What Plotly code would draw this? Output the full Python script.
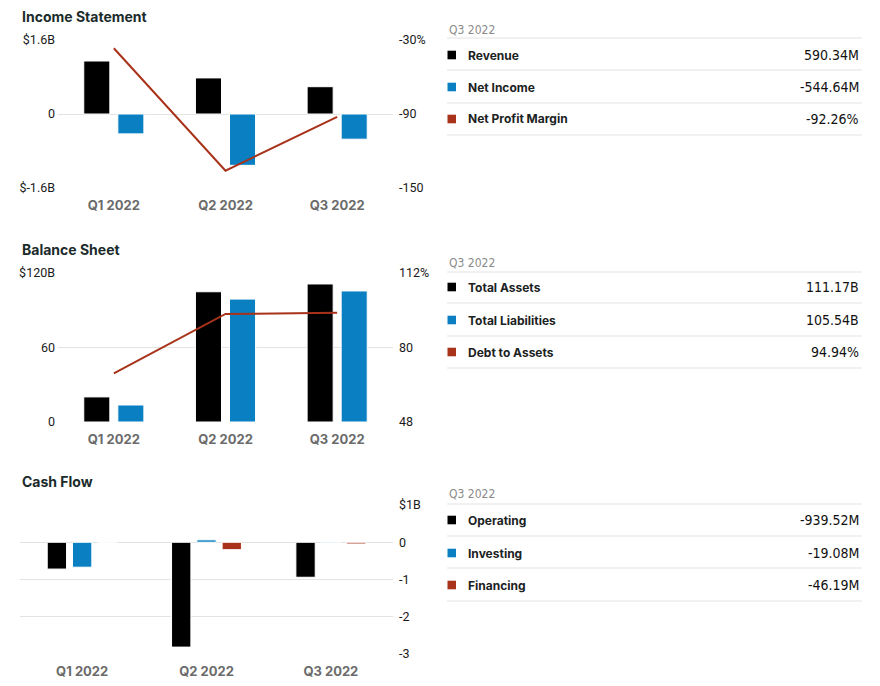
import plotly.graph_objects as go

# ---------------- data ----------------
quarters = ["Q1 2022", "Q2 2022", "Q3 2022"]

revenue_b = [1.146, 0.78, 0.59034]
net_income_b = [-0.43, -1.11, -0.54464]
net_profit_margin = [-36.7, -136.0, -92.26]

total_assets_b = [20.2, 104.9, 111.17]
total_liabilities_b = [13.7, 99.0, 105.54]
debt_to_assets = [68.9, 94.4, 94.94]

operating_b = [-0.72, -2.815, -0.93952]
investing_b = [-0.67, 0.065, -0.01908]
financing_b = [0.004, -0.20, -0.04619]

inc_left_ticks = [-1.6, 0, 1.6]
inc_left_text = ["$-1.6B", "0", "$1.6B"]
inc_right_ticks = [-150, -90, -30]
inc_right_text = ["-150", "-90", "-30%"]
bal_left_ticks = [0, 60, 120]
bal_left_text = ["0", "60", "$120B"]
bal_right_ticks = [48, 80, 112]
bal_right_text = ["48", "80", "112%"]
cf_ticks = [-3, -2, -1, 0, 1]
cf_text = ["-3", "-2", "-1", "0", "$1B"]

# ---------------- style ----------------
BLACK = "#000000"
BLUE = "#0a7fc2"
RED = "#a8321a"
GRID = "#e3e3e3"
W, H = 880, 686
BASE_FONT = "Inter, Roboto, 'DejaVu Sans', sans-serif"
NARROW = "'Liberation Sans Narrow', 'DejaVu Sans Condensed', 'Roboto Condensed', Roboto, sans-serif"


def px_x(p):
    return p / W


def px_y(p):
    return 1 - p / H


fig = go.Figure()

bar_line = dict(color="white", width=1)

# Income statement
fig.add_trace(go.Bar(x=quarters, y=revenue_b, marker=dict(color=BLACK, line=bar_line),
                     xaxis="x", yaxis="y", name="Revenue"))
fig.add_trace(go.Bar(x=quarters, y=net_income_b, marker=dict(color=BLUE, line=bar_line),
                     xaxis="x", yaxis="y", name="Net Income"))
fig.add_trace(go.Scatter(x=quarters, y=net_profit_margin, mode="lines",
                         line=dict(color=RED, width=2), xaxis="x", yaxis="y2",
                         name="Net Profit Margin"))

# Balance sheet
fig.add_trace(go.Bar(x=quarters, y=total_assets_b, marker=dict(color=BLACK, line=bar_line),
                     xaxis="x2", yaxis="y3", name="Total Assets"))
fig.add_trace(go.Bar(x=quarters, y=total_liabilities_b, marker=dict(color=BLUE, line=bar_line),
                     xaxis="x2", yaxis="y3", name="Total Liabilities"))
fig.add_trace(go.Scatter(x=quarters, y=debt_to_assets, mode="lines",
                         line=dict(color=RED, width=2), xaxis="x2", yaxis="y4",
                         name="Debt to Assets"))

# Cash flow
fig.add_trace(go.Bar(x=quarters, y=operating_b, marker=dict(color=BLACK, line=bar_line),
                     xaxis="x3", yaxis="y5", name="Operating"))
fig.add_trace(go.Bar(x=quarters, y=investing_b, marker=dict(color=BLUE, line=bar_line),
                     xaxis="x3", yaxis="y5", name="Investing"))
fig.add_trace(go.Bar(x=quarters, y=financing_b, marker=dict(color=RED, line=bar_line),
                     xaxis="x3", yaxis="y5", name="Financing"))

xfont = dict(family=BASE_FONT, size=13, color="#6b6b6b", weight=700)
yfont = dict(family="Roboto, 'DejaVu Sans', sans-serif", size=12.5, color="#1a1a1a")


def xaxis(domain, anchor):
    return dict(domain=domain, anchor=anchor, showgrid=False, zeroline=False,
                showline=False, ticks="", tickfont=xfont, ticklabelstandoff=8,
                fixedrange=True, automargin=False)


def yaxis(domain, rng, tv, tt, side="left", overlay=None, grid=True, anchor=None):
    d = dict(domain=domain, range=rng, tickvals=tv, ticktext=tt, side=side,
             showgrid=grid, gridcolor=GRID, gridwidth=1, zeroline=False,
             showline=False, ticks="", tickfont=yfont, fixedrange=True,
             automargin=False,
             ticklabelstandoff=2 if side == "left" else 5)
    if overlay:
        d["overlaying"] = overlay
    if anchor:
        d["anchor"] = anchor
    return d


inc_dom_y = [px_y(188), px_y(40)]
bal_dom_y = [px_y(422), px_y(273)]
cf_dom_y = [px_y(654), px_y(505)]

fig.update_layout(
    template="none",
    width=W, height=H,
    margin=dict(l=0, r=0, t=0, b=0, pad=0),
    paper_bgcolor="white", plot_bgcolor="white",
    showlegend=False,
    barmode="group", bargap=0.39, bargroupgap=0.235,
    font=dict(family=BASE_FONT),
    xaxis=xaxis([px_x(58), px_x(393)], "y"),
    yaxis=yaxis(inc_dom_y, [-1.6, 1.6], inc_left_ticks, inc_left_text, anchor="x"),
    yaxis2=yaxis(inc_dom_y, [-150, -30], inc_right_ticks, inc_right_text, side="right",
                 overlay="y", grid=False, anchor="x"),
    xaxis2=xaxis([px_x(58), px_x(393)], "y3"),
    yaxis3=yaxis(bal_dom_y, [0, 120], bal_left_ticks, bal_left_text, anchor="x2"),
    yaxis4=yaxis(bal_dom_y, [48, 112], bal_right_ticks, bal_right_text, side="right",
                 overlay="y3", grid=False, anchor="x2"),
    xaxis3=xaxis([px_x(20), px_x(393)], "y5"),
    yaxis5=yaxis(cf_dom_y, [-3, 1], cf_ticks, cf_text, side="right", anchor="x3"),
)

shapes = []
annotations = []

# Section titles
for title, ty in [("Income Statement", 16), ("Balance Sheet", 249), ("Cash Flow", 481)]:
    annotations.append(dict(text=title, x=px_x(20), y=px_y(ty), xref="paper", yref="paper",
                            xanchor="left", yanchor="middle", showarrow=False,
                            font=dict(family=BASE_FONT, size=14, color="#1b2b2b", weight=700)))


def fmt_m(v):
    return f"{v * 1000:.2f}M"


def fmt_b(v):
    return f"{v:.2f}B"


def fmt_pct(v):
    return f"{v:.2f}%"


tables = [
    (30, [38, 70, 103, 135],
     [("Revenue", BLACK, fmt_m(revenue_b[-1]), 55),
      ("Net Income", BLUE, fmt_m(net_income_b[-1]), 87),
      ("Net Profit Margin", RED, fmt_pct(net_profit_margin[-1]), 119)]),
    (263, [272, 303, 336, 368],
     [("Total Assets", BLACK, fmt_b(total_assets_b[-1]), 287),
      ("Total Liabilities", BLUE, fmt_b(total_liabilities_b[-1]), 320),
      ("Debt to Assets", RED, fmt_pct(debt_to_assets[-1]), 352)]),
    (494, [504, 536, 568, 601],
     [("Operating", BLACK, fmt_m(operating_b[-1]), 520),
      ("Investing", BLUE, fmt_m(investing_b[-1]), 553),
      ("Financing", RED, fmt_m(financing_b[-1]), 585)]),
]

X0, X1 = 447, 862
for head_y, lines_y, rows in tables:
    annotations.append(dict(text=quarters[-1], x=px_x(X0), y=px_y(head_y), xref="paper",
                            yref="paper", xanchor="left", yanchor="middle", showarrow=False,
                            font=dict(family=NARROW, size=12, color="#8a8a8a")))
    for ly in lines_y:
        shapes.append(dict(type="line", xref="paper", yref="paper",
                           x0=px_x(X0), x1=px_x(X1), y0=px_y(ly), y1=px_y(ly),
                           line=dict(color="#e3e3e3", width=1)))
    for label, color, val, ry in rows:
        shapes.append(dict(type="rect", xref="paper", yref="paper",
                           x0=px_x(447.5), x1=px_x(456), y0=px_y(ry + 4.3), y1=px_y(ry - 4.3),
                           fillcolor=color, line=dict(width=0)))
        annotations.append(dict(text=label, x=px_x(466), y=px_y(ry), xref="paper", yref="paper",
                                xanchor="left", yanchor="middle", showarrow=False,
                                font=dict(family=BASE_FONT, size=12, color="#1b2222", weight=700)))
        annotations.append(dict(text=val, x=px_x(861), y=px_y(ry), xref="paper", yref="paper",
                                xanchor="right", yanchor="middle", showarrow=False,
                                font=dict(family=NARROW, size=14, color="#111111")))

fig.update_layout(shapes=shapes, annotations=annotations)

fig.write_html("out.html", config={"displayModeBar": False},
               post_script="document.body.style.margin='0';document.body.style.overflow='hidden';")
